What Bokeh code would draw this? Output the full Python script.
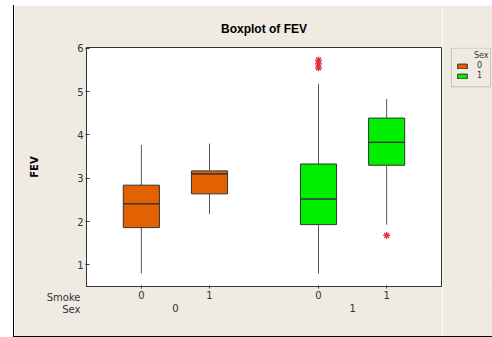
from bokeh.plotting import figure
from bokeh.layouts import row, column
from bokeh.models import (Div, Spacer, FactorRange, Range1d, Legend, LegendItem,
                          Label, FixedTicker, ColumnDataSource, BoxAnnotation)
from bokeh.embed import file_html
from bokeh.resources import INLINE

# ---- data ----
sex = ["0", "0", "1", "1"]
smoke = ["0", "1", "0", "1"]
lower_whisker = [0.80, 2.17, 0.80, 1.93]
q1 = [1.86, 2.64, 1.93, 3.30]
median = [2.41, 3.10, 2.52, 3.83]
q3 = [2.84, 3.17, 3.33, 4.39]
upper_whisker = [3.77, 3.80, 5.18, 4.83]
outlier_sex = ["1", "1", "1", "1"]
outlier_smoke = ["0", "0", "0", "1"]
outlier_values = [5.73, 5.64, 5.55, 1.68]
y_ticks = [1, 2, 3, 4, 5, 6]
legend_levels = ["0", "1"]
sex_colors = {"0": "#E26100", "1": "#00EE00"}

BG = "#EFEAE2"
INK = "#333333"
FONT = "DejaVu Sans"

factors = list(zip(sex, smoke))
src = ColumnDataSource(dict(
    x=factors, lo=lower_whisker, q1=q1, med=median, q3=q3, hi=upper_whisker,
    color=[sex_colors[s] for s in sex]))

p = figure(width=428, height=331,
           x_range=FactorRange(*factors, group_padding=0.6, range_padding=0.305,
                               range_padding_units="absolute"),
           y_range=Range1d(0.5, 6.02),
           output_backend="svg", toolbar_location=None,
           min_border_left=72, min_border_right=1, min_border_top=42, min_border_bottom=46,
           background_fill_color="white", border_fill_color=BG,
           outline_line_color=INK, outline_line_width=1)

p.segment(x0="x", x1="x", y0="q3", y1="hi", source=src, line_color="#555555", line_width=1)
p.segment(x0="x", x1="x", y0="lo", y1="q1", source=src, line_color="#555555", line_width=1)
p.vbar(x="x", width=0.53, bottom="q1", top="q3", source=src,
       fill_color="color", line_color=INK, line_width=1)
p.vbar(x="x", width=0.53, bottom="med", top="med", source=src,
       fill_color=None, line_color=INK, line_width=1)

out_src = ColumnDataSource(dict(x=list(zip(outlier_sex, outlier_smoke)), y=outlier_values))
p.scatter(x="x", y="y", source=out_src, marker="asterisk",
          size=7, line_color="#E0303A", line_width=1.3)

p.title.text = "Boxplot of FEV"
p.title.align = "center"
p.title.text_font = "Liberation Sans"
p.title.text_font_size = "12px"
p.title.text_font_style = "bold"
p.title.text_color = "black"
p.title.standoff = 23

p.xgrid.grid_line_color = None
p.ygrid.grid_line_color = None

ya = p.yaxis[0]
ya.ticker = FixedTicker(ticks=y_ticks)
ya.minor_tick_line_color = None
ya.major_tick_in = 3
ya.major_tick_out = 1
ya.major_label_standoff = 2
ya.axis_line_color = INK
ya.major_tick_line_color = INK
ya.major_label_text_font = FONT
ya.major_label_text_font_size = "10px"
ya.major_label_text_color = INK
ya.axis_label = "FEV"
ya.axis_label_text_font = FONT
ya.axis_label_text_font_size = "10px"
ya.axis_label_text_font_style = "bold"
ya.axis_label_text_color = "black"
ya.axis_label_standoff = 34

xa = p.xaxis[0]
xa.major_tick_in = 1
xa.major_tick_out = 2
xa.major_label_standoff = 2
xa.axis_line_color = INK
xa.major_tick_line_color = INK
xa.major_label_text_font = FONT
xa.major_label_text_font_size = "10px"
xa.major_label_text_color = INK
xa.group_text_font = FONT
xa.group_text_font_size = "10px"
xa.group_text_font_style = "normal"
xa.group_text_color = INK
xa.separator_line_color = None

# level names at the left of the x axis (in the panel below the frame)
for txt, yy in [("Smoke", 28), ("Sex", 27)]:
    p.add_layout(Label(x=-6, y=yy, x_units="screen", y_units="screen", text=txt,
                       text_align="right", text_baseline="middle", text_font=FONT,
                       text_font_size="10px", text_color=INK), "below")

# ---- legend, in its own small figure at the right (frame aligned with the main frame) ----
lg = figure(width=50, height=331, x_range=Range1d(0, 50), y_range=Range1d(243, 0),
            x_axis_type=None, y_axis_type=None, output_backend="svg",
            toolbar_location=None, min_border=0, background_fill_color=BG,
            border_fill_color=BG, outline_line_color=None)
lg.xgrid.grid_line_color = None
lg.ygrid.grid_line_color = None
lg.add_layout(BoxAnnotation(left=9, right=48, top=0.5, bottom=40, fill_color=BG,
                            fill_alpha=1, line_color="#666666", line_width=1, level="underlay"))
items = []
nan = float("nan")
for s in legend_levels:
    # a legend-only renderer: one undrawn (NaN) point so that its swatch is drawn
    r = lg.vbar(x=[nan], top=[nan], bottom=[nan], width=1,
                fill_color=sex_colors[s], line_color=INK, line_width=1)
    items.append(LegendItem(label=s, renderers=[r]))
lg.add_layout(Legend(items=items, location="top_left", margin=14, padding=0, spacing=1,
                     glyph_width=12, glyph_height=6, label_height=8, label_width=6,
                     label_standoff=9, label_text_font=FONT, label_text_font_size="8px",
                     label_text_color=INK, border_line_color=None,
                     background_fill_alpha=0))
lg.add_layout(Label(x=46, y=8, text="Sex", text_align="right", text_baseline="middle",
                    text_font=FONT, text_font_size="8px", text_color=INK))

vline = Div(width=1, height=331, margin=0, styles={"background-color": "black"})
hline = Div(width=479, height=1, margin=0, styles={"background-color": "black"})
layout = row(Spacer(width=13),
             column(Spacer(height=5), row(vline, p, lg, spacing=0), hline, spacing=0),
             spacing=0)

open("out.html", "w").write(file_html(layout, INLINE))
